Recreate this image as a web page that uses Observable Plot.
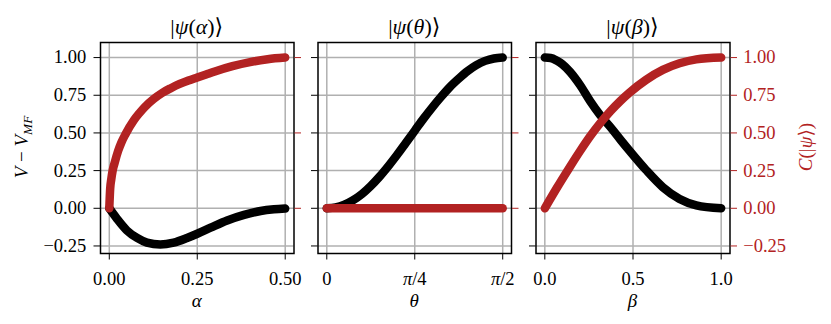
<!DOCTYPE html>
<html>
<head>
<meta charset="utf-8">
<script src="https://cdn.jsdelivr.net/npm/d3@7"></script>
<script src="https://cdn.jsdelivr.net/npm/@observablehq/plot@0.6"></script>
<style>
  html, body { margin: 0; padding: 0; background: white; }
  #wrap { position: relative; width: 831px; height: 324px; background: white; overflow: hidden;
          font-family: 'Liberation Serif', 'DejaVu Serif', serif; color: black; }
  #wrap svg { position: absolute; left: 0; top: 0; }
  .lbl { position: absolute; white-space: nowrap; line-height: 1; }
  .ttl { font-size: 22px; }
  .axl { font-size: 19px; }
  i { font-style: italic; }
</style>
</head>
<body>
<div id="wrap"></div>
<script>
// ---------- data ----------
const yTicks = [-0.25, 0, 0.25, 0.5, 0.75, 1.0];
const rightTicksShort = [0, 0.5, 1.0];

// panel 1: |psi(alpha)>
const alphaTicks = [0, 0.25, 0.5];
const alphaTickLabels = ["0.00", "0.25", "0.50"];
const alphaBlack = [0, 0.022, 0.05, 0.079, 0.107, 0.145, 0.183, 0.221, 0.25, 0.288, 0.335, 0.383, 0.43, 0.468, 0.5];
const vAlpha = [0, -0.07, -0.147, -0.197, -0.228, -0.241, -0.228, -0.197, -0.169, -0.129, -0.081, -0.044, -0.018, -0.007, -0.002];
const alphaRed = [0, 0.0025, 0.0055, 0.0095, 0.015, 0.025, 0.035, 0.0456, 0.07, 0.085, 0.1, 0.126, 0.15, 0.175, 0.2, 0.225, 0.25, 0.275, 0.3, 0.35, 0.4, 0.45, 0.5];
const cAlpha = [0, 0.13, 0.19, 0.25, 0.30, 0.38, 0.44, 0.49, 0.585, 0.63, 0.67, 0.725, 0.765, 0.797, 0.825, 0.848, 0.868, 0.888, 0.908, 0.943, 0.97, 0.989, 1.0];

// panel 2: |psi(theta)>, theta in units of pi/2
const thetaTicks = [0, 0.5, 1];
const thetaTickLabels = ["0", "π/4", "π/2"];
const theta = [0, 0.05, 0.1, 0.15, 0.2, 0.25, 0.3, 0.35, 0.4, 0.45, 0.5, 0.55, 0.6, 0.65, 0.7, 0.75, 0.8, 0.85, 0.9, 0.95, 1.0];
const vTheta = [0, 0.006, 0.024, 0.054, 0.095, 0.148, 0.21, 0.28, 0.355, 0.435, 0.515, 0.595, 0.67, 0.74, 0.805, 0.86, 0.91, 0.95, 0.978, 0.994, 1.0];
const cTheta = [0, 0, 0, 0, 0, 0, 0, 0, 0, 0, 0, 0, 0, 0, 0, 0, 0, 0, 0, 0, 0];

// panel 3: |psi(beta)>
const betaTicks = [0, 0.5, 1];
const betaTickLabels = ["0.0", "0.5", "1.0"];
const betaBlack = [0, 0.033, 0.067, 0.1, 0.143, 0.2, 0.257, 0.314, 0.371, 0.429, 0.478, 0.574, 0.669, 0.764, 0.859, 1.0];
const vBeta = [1.0, 0.997, 0.98, 0.955, 0.905, 0.817, 0.711, 0.618, 0.54, 0.455, 0.385, 0.254, 0.14, 0.062, 0.02, 0.0];
const betaRed = [0, 0.067, 0.143, 0.2, 0.257, 0.314, 0.371, 0.429, 0.478, 0.574, 0.669, 0.764, 0.859, 1.0];
const cBeta = [0, 0.133, 0.276, 0.38, 0.478, 0.565, 0.643, 0.713, 0.765, 0.852, 0.918, 0.962, 0.988, 1.0];

// ---------- styling ----------
const RED = "#b22222";
const GRID = "#b0b0b0";
const FONT = "'Liberation Serif', 'DejaVu Serif', serif";
const W = 831, H = 324;
const fmt2 = d3.format(".2f");

const panels = [
  {left: 100, right: 293.5, xDomain: [-0.025, 0.525], xTicks: alphaTicks, xLabels: alphaTickLabels,
   bx: alphaBlack, by: vAlpha, rx: alphaRed, ry: cAlpha, leftLabels: true, rTicks: rightTicksShort, rLabels: false},
  {left: 317.5, right: 511, xDomain: [-0.05, 1.05], xTicks: thetaTicks, xLabels: thetaTickLabels,
   bx: theta, by: vTheta, rx: theta, ry: cTheta, leftLabels: false, rTicks: rightTicksShort, rLabels: false},
  {left: 535.5, right: 729.5, xDomain: [-0.05, 1.05], xTicks: betaTicks, xLabels: betaTickLabels,
   bx: betaBlack, by: vBeta, rx: betaRed, ry: cBeta, leftLabels: false, rTicks: yTicks, rLabels: true}
];

const wrap = document.getElementById("wrap");

function zipXY(xs, ys) { return xs.map((x, i) => ({x, y: ys[i]})); }

panels.forEach((p, k) => {
  const svg = Plot.plot({
    width: W, height: H,
    marginLeft: p.left, marginRight: W - p.right, marginTop: 42, marginBottom: 71,
    style: {fontFamily: FONT, fontSize: "18.5px", background: "transparent", overflow: "visible"},
    x: {domain: p.xDomain},
    y: {domain: [-0.3, 1.1]},
    marks: [
      Plot.gridX(p.xTicks, {stroke: GRID, strokeOpacity: 1, strokeWidth: 1.5}),
      Plot.gridY(yTicks, {stroke: GRID, strokeOpacity: 1, strokeWidth: 1.5}),
      Plot.line(zipXY(p.bx, p.by), {x: "x", y: "y", stroke: "black", strokeWidth: 8.5,
        strokeLinecap: "round", strokeLinejoin: "round", curve: "monotone-x"}),
      Plot.frame({stroke: "black", strokeWidth: 1.5}),
      Plot.line(zipXY(p.rx, p.ry), {x: "x", y: "y", stroke: RED, strokeWidth: 8.5,
        strokeLinecap: "round", strokeLinejoin: "round", curve: "monotone-x"}),
      Plot.axisX(p.xTicks, {tickSize: 6.5, tickPadding: 12, label: null,
        tickFormat: d => p.xLabels[p.xTicks.indexOf(d)]}),
      Plot.axisY(yTicks, {tickSize: 6.5, tickPadding: 7.8, label: null,
        tickFormat: p.leftLabels ? fmt2 : () => ""}),
      Plot.axisY(p.rTicks, {anchor: "right", color: RED, stroke: RED, fill: RED, tickSize: 6.5, tickPadding: 6.7, label: null,
        tickFormat: p.rLabels ? fmt2 : () => ""})
    ]
  });
  // italic pi in theta tick labels (LaTeX style)
  svg.querySelectorAll("text").forEach(t => {
    if (t.textContent.includes("π")) {
      const rest = t.textContent.replace("π", "");
      t.textContent = "";
      const ts = document.createElementNS("http://www.w3.org/2000/svg", "tspan");
      ts.setAttribute("font-style", "italic");
      ts.textContent = "π";
      t.appendChild(ts);
      t.appendChild(document.createTextNode(rest));
    }
  });
  wrap.appendChild(svg);
});

// ---------- titles and axis labels ----------
const titles = [
  {cx: 196.75, html: "|<i>ψ</i>(<i>α</i>)⟩"},
  {cx: 414.25, html: "|<i>ψ</i>(<i>θ</i>)⟩"},
  {cx: 632.5, html: "|<i>ψ</i>(<i>β</i>)⟩"}
];
const xLabels = [
  {cx: 196.75, html: "<i>α</i>"},
  {cx: 414.25, html: "<i>θ</i>"},
  {cx: 632.5, html: "<i>β</i>"}
];
function addLabel(cls, html, left, top, transform, color) {
  const d = document.createElement("div");
  d.className = "lbl " + cls;
  d.innerHTML = html;
  d.style.left = left + "px";
  d.style.top = top + "px";
  d.style.transform = transform;
  if (color) d.style.color = color;
  wrap.appendChild(d);
}
titles.forEach(t => addLabel("ttl", t.html, t.cx, 16, "translateX(-50%)"));
xLabels.forEach(t => addLabel("axl", t.html, t.cx, 291, "translateX(-50%)"));
addLabel("axl", "<i>V</i> − <i>V</i><sub style='font-size:0.7em;vertical-align:-0.25em'><i>MF</i></sub>",
  22.5, 147, "translate(-50%,-50%) rotate(-90deg)");
addLabel("axl", "<i>C</i>(|<i>ψ</i>⟩)", 805, 147, "translate(-50%,-50%) rotate(-90deg)", RED);
</script>
</body>
</html>
